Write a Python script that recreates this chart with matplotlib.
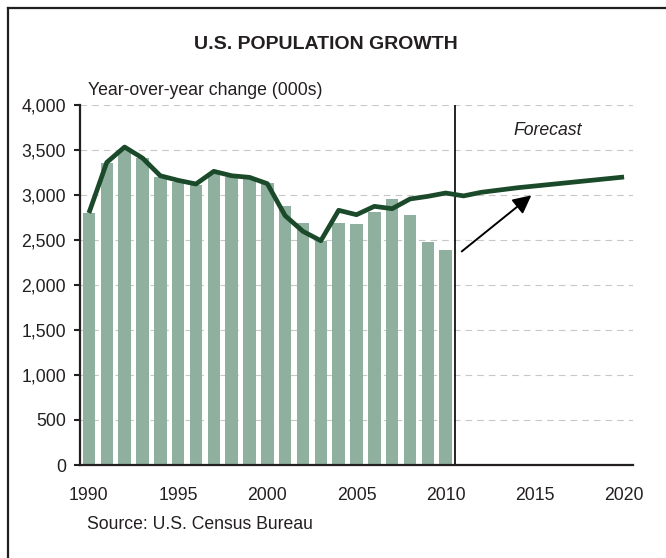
import matplotlib
matplotlib.use("Agg")
import matplotlib.pyplot as plt
from matplotlib.lines import Line2D
from matplotlib.ticker import FuncFormatter

# === DATA ===
bar_years = list(range(1990, 2011))
bar_values = [2800, 3360, 3500, 3410, 3200, 3150, 3110, 3240, 3200, 3180, 3130,
              2880, 2690, 2490, 2690, 2680, 2810, 2960, 2780, 2480, 2390]

line_years = list(range(1990, 2021))
line_values = [2800, 3362, 3533, 3411, 3214, 3163, 3122, 3263, 3214, 3196, 3126,
               2770, 2596, 2492, 2830, 2781, 2874, 2848, 2956, 2985, 3022,
               2990, 3030, 3055, 3080, 3100, 3120, 3140, 3160, 3180, 3200]

x_ticks = [1990, 1995, 2000, 2005, 2010, 2015, 2020]
y_ticks = [0, 500, 1000, 1500, 2000, 2500, 3000, 3500, 4000]
forecast_start = 2010.5

title = "U.S. POPULATION GROWTH"
y_label = "Year-over-year change (000s)"
source = "Source: U.S. Census Bureau"

# === STYLE ===
plt.rcParams['font.family'] = ['Liberation Sans', 'DejaVu Sans']
text_color = "#231f20"
bar_color = "#8fb09f"
line_color = "#1b4a2b"
grid_color = "#c8c8c8"

W, H = 666, 558
fig = plt.figure(figsize=(W / 100, H / 100), dpi=100)
ax = fig.add_axes([80 / W, 1 - 465 / H, 553 / W, 360 / H])

# grid first so bars cover it
for y in y_ticks[1:]:
    ax.axhline(y, color=grid_color, lw=0.8, dashes=(6, 4.5), zorder=0)

ax.bar(bar_years, bar_values, width=0.7, color=bar_color, zorder=2)
ax.plot(line_years, line_values, color=line_color, lw=3.4,
        solid_joinstyle='round', solid_capstyle='butt', zorder=4)
ax.axvline(forecast_start, color="black", lw=1.2, zorder=3)

ax.annotate("", xy=(2014.8, 2996), xytext=(2010.9, 2373),
            arrowprops=dict(arrowstyle="-|>,head_length=0.5,head_width=0.25",
                            color="black", lw=1.4,
                            mutation_scale=22, shrinkA=0, shrinkB=0),
            zorder=5)
ax.text(2015.7, 3714, "Forecast", style="italic", fontsize=12.7,
        color=text_color, ha="center", va="center")

ax.set_xlim(1989.5, 2020.5)
ax.set_ylim(0, 4000)
ax.set_xticks(x_ticks)
ax.set_yticks(y_ticks)
ax.yaxis.set_major_formatter(FuncFormatter(lambda v, p: f"{int(v):,}"))
ax.tick_params(axis="x", length=0, pad=15.5, labelsize=12.7, labelcolor=text_color)
ax.tick_params(axis="y", length=4, width=1.5, pad=6, direction="out",
               labelsize=12.7, labelcolor=text_color, color=text_color)

for side in ["top", "right"]:
    ax.spines[side].set_visible(False)
ax.spines["left"].set_linewidth(1.6)
ax.spines["left"].set_color(text_color)
ax.spines["bottom"].set_linewidth(1.6)
ax.spines["bottom"].set_color(text_color)
ax.spines["bottom"].set_zorder(6)

# texts placed in figure pixels
def fx(px):
    return px / W

def fy(py):
    return 1 - py / H

fig.text(fx(326), fy(49), title, fontsize=14, fontweight="bold",
         color=text_color, ha="center", va="baseline")
fig.text(fx(88), fy(95), y_label, fontsize=12.7, color=text_color,
         ha="left", va="baseline")
fig.text(fx(87), fy(529), source, fontsize=12.7, color=text_color,
         ha="left", va="baseline")

# outer frame (only left and top edges show)
fig.add_artist(Line2D([fx(7.5), fx(7.5)], [0, fy(7.5)], color=text_color, lw=1.6))
fig.add_artist(Line2D([fx(7.5), 1], [fy(7.5), fy(7.5)], color=text_color, lw=1.6))

fig.savefig("out.png", dpi=100)
